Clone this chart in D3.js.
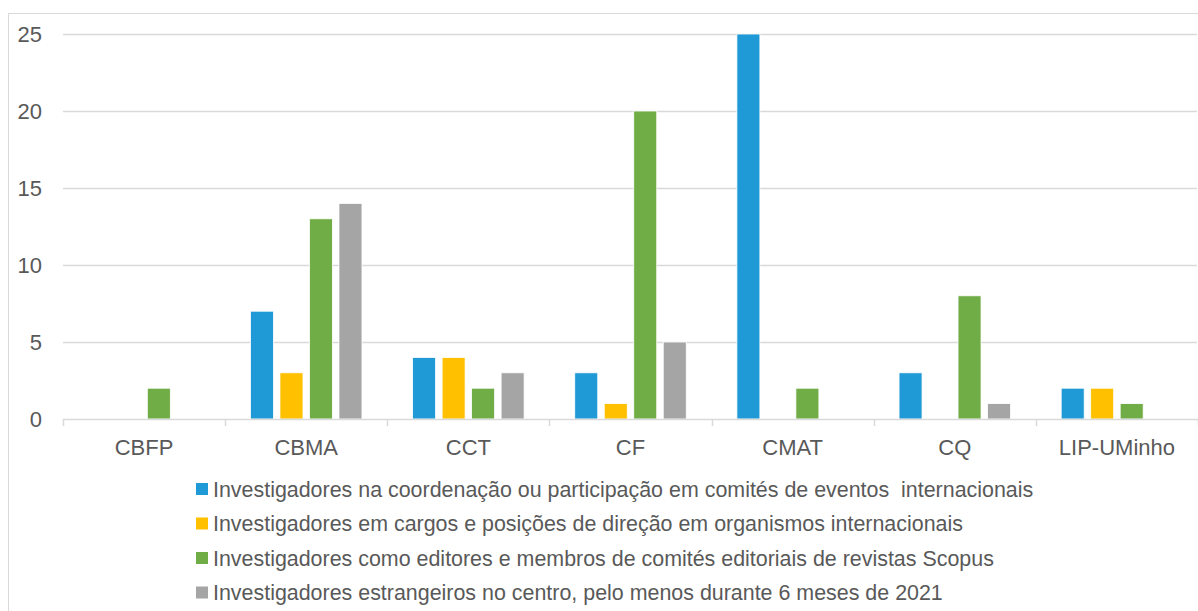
<!DOCTYPE html>
<html>
<head>
<meta charset="utf-8">
<script src="https://d3js.org/d3.v7.min.js"></script>
<style>
  body { margin: 0; background: #fff; }
  text { font-family: "Liberation Sans Narrow", "Arial Narrow", "Liberation Sans", sans-serif; fill: #595959; }
</style>
</head>
<body>
<script>
const categories = ["CBFP", "CBMA", "CCT", "CF", "CMAT", "CQ", "LIP-UMinho"];
const seriesNames = [
  "Investigadores na coordenação ou participação em comités de eventos  internacionais",
  "Investigadores em cargos e posições de direção em organismos internacionais",
  "Investigadores como editores e membros de comités editoriais de revistas Scopus",
  "Investigadores estrangeiros no centro, pelo menos durante 6 meses de 2021"
];
const coordenacao = [0, 7, 4, 3, 25, 3, 2];
const direcao = [0, 3, 4, 1, 0, 0, 2];
const editores = [2, 13, 2, 20, 2, 8, 1];
const estrangeiros = [0, 14, 3, 5, 0, 1, 0];
const yTicks = [0, 5, 10, 15, 20, 25];
const colors = ["#1f9ad6", "#ffc000", "#70ad47", "#a5a5a5"];

const w = 1198, h = 611;
const allSeries = [coordenacao, direcao, editores, estrangeiros];

const svg = d3.select("body").append("svg").attr("width", w).attr("height", h);

// chart frame
svg.append("rect").attr("x", 8.5).attr("y", 13.5).attr("width", w).attr("height", h)
  .attr("fill", "none").attr("stroke", "#d9d9d9");

const plotLeft = 63, plotRight = 1198, plotTop = 34, plotBottom = 419;

const x = d3.scaleBand().domain(categories).range([plotLeft, plotRight]).padding(0);
const x1 = d3.scaleBand().domain(d3.range(4))
  .range([x.bandwidth() / 2 - 59, x.bandwidth() / 2 + 59])
  .paddingInner(0.22).paddingOuter(0.11);
const y = d3.scaleLinear().domain([0, 25]).range([plotBottom, plotTop]);

// gridlines
svg.append("g").selectAll("line").data(yTicks.filter(d => d > 0)).enter().append("line")
  .attr("x1", plotLeft).attr("x2", plotRight - 1)
  .attr("y1", d => Math.round(y(d)) + 0.5).attr("y2", d => Math.round(y(d)) + 0.5)
  .attr("stroke", "#d9d9d9").attr("stroke-width", 1.5);

// y labels
svg.append("g").selectAll("text").data(yTicks).enter().append("text")
  .attr("x", 42).attr("y", d => y(d)).attr("dy", "0.35em")
  .attr("text-anchor", "end").attr("font-size", 22)
  .style("font-family", "'Liberation Sans', sans-serif")
  .text(d => d);

// bars
const groups = svg.append("g").selectAll("g").data(categories).enter().append("g")
  .attr("transform", d => "translate(" + x(d) + ",0)");
groups.selectAll("rect")
  .data((c, i) => allSeries.map((s, k) => ({ k: k, v: s[i] })).filter(d => d.v > 0))
  .enter().append("rect")
  .attr("x", d => x1(d.k)).attr("width", x1.bandwidth())
  .attr("y", d => y(d.v)).attr("height", d => y(0) - y(d.v))
  .attr("fill", d => colors[d.k]).attr("stroke", "#ffffff").attr("stroke-width", 0.8);

// x axis
const xAxis = d3.axisBottom(x).tickSize(0).tickPadding(20);
const gx = svg.append("g").attr("transform", "translate(0," + plotBottom + ")").call(xAxis);
gx.select(".domain").attr("stroke", "#d9d9d9").attr("stroke-width", 1.5);
gx.selectAll("text").attr("font-size", 22).attr("fill", "#595959")
  .style("font-family", "'Liberation Sans', sans-serif");
svg.append("g").selectAll("line").data(categories.concat([null])).enter().append("line")
  .attr("x1", (d, i) => Math.round(plotLeft + i * x.step()) + 0.5)
  .attr("x2", (d, i) => Math.round(plotLeft + i * x.step()) + 0.5)
  .attr("y1", plotBottom).attr("y2", plotBottom + 7)
  .attr("stroke", "#d9d9d9").attr("stroke-width", 1.5);

// legend
const legend = svg.append("g").selectAll("g").data(seriesNames).enter().append("g")
  .attr("transform", (d, i) => "translate(196," + (489 + i * 34.5) + ")");
legend.append("rect").attr("x", 0).attr("y", -6).attr("width", 12).attr("height", 12)
  .attr("fill", (d, i) => colors[i]);
legend.append("text").attr("transform", "translate(17,0) scale(0.974,1)")
  .attr("dy", "0.35em").attr("font-size", 22)
  .style("white-space", "pre").attr("xml:space", "preserve")
  .text(d => d);
</script>
</body>
</html>
